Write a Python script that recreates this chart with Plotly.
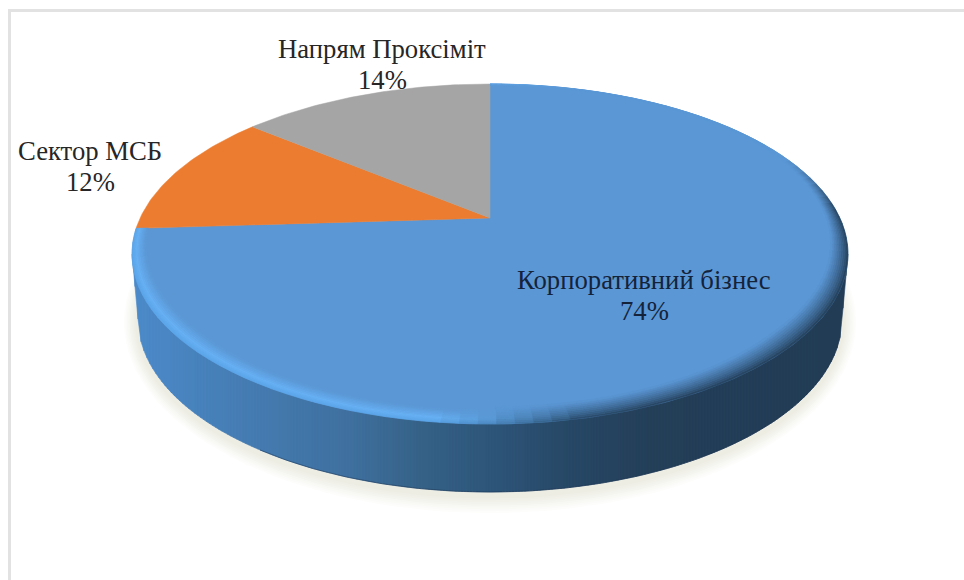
import math
import plotly.graph_objects as go

categories = ["Корпоративний бізнес", "Сектор МСБ", "Напрям Проксіміт"]
values = [74, 12, 14]
slice_colors = ["#5b97d5", "#ec7c30", "#a5a5a5"]

# Layout of the tilted disc, in pixels of the plot area
APEX_X, APEX_Y = 490, 218
TOP_UP, TOP_DOWN = 134, 206      # apex to far / near rim
RX = 358
LOW_CY, LOW_RX, LOW_RY = 319, 352, 173
k = (TOP_DOWN - TOP_UP) / (TOP_DOWN + TOP_UP)
b = TOP_UP * (1 + k)
a = RX * math.sqrt(1 - k * k)
CY = (APEX_Y - TOP_UP + APEX_Y + TOP_DOWN) / 2
RY = (TOP_UP + TOP_DOWN) / 2

label_x = [644, 90, 382]
label_y = [280, 151, 49]
LINE_GAP = 30.5
label_colors = ["#14233a", "#262626", "#262626"]

side_stops = [(133, "#4c8aca"), (250, "#457cb2"), (350, "#3f709f"), (420, "#366288"),
              (500, "#2d5478"), (570, "#274866"), (650, "#243f59"), (848, "#223c55")]


def rgb(h):
    return tuple(int(h[i:i + 2], 16) for i in (1, 3, 5))


def mix(c1, c2, t):
    t = max(0.0, min(1.0, t))
    return tuple(c1[i] + (c2[i] - c1[i]) * t for i in range(3))


def css(c):
    return "rgb(%d,%d,%d)" % tuple(round(x) for x in c)


def side_color(x):
    for (x0, c0), (x1, c1) in zip(side_stops, side_stops[1:]):
        if x <= x1:
            return mix(rgb(c0), rgb(c1), (x - x0) / (x1 - x0))
    return rgb(side_stops[-1][1])


def proj(frac, r=1.0):
    """Clockwise share of the circle from 12 o'clock -> page position."""
    th = 2 * math.pi * frac
    u, v = r * math.sin(th), r * math.cos(th)
    d = 1 + k * v
    return APEX_X + a * u / d, APEX_Y - b * v / d


fig = go.Figure()


def poly(xs, ys, color, opacity=None):
    fig.add_trace(go.Scatter(
        x=xs, y=ys, mode="lines", fill="toself", fillcolor=color,
        line=dict(color=color, width=0.6 if opacity is None else 0),
        opacity=opacity, hoverinfo="skip", showlegend=False))


# soft shadow under the disc
for i in range(9):
    g = 20 - i * 2
    xs, ys = [], []
    for j in range(121):
        t = 2 * math.pi * j / 120
        xs.append(APEX_X + (LOW_RX + g * 0.7) * math.cos(t))
        ys.append(LOW_CY + 3 + (LOW_RY + g * 0.9) * math.sin(t))
    poly(xs, ys, "rgba(110,100,90,0.017)", 1)


def top_y(x):
    dx = abs(x - APEX_X)
    return CY + RY * math.sqrt(max(0.0, 1 - (dx / RX) ** 2))


def low_y(x):
    dx = abs(x - APEX_X)
    if dx >= LOW_RX:
        return CY + (LOW_CY - CY) * (RX - dx) / (RX - LOW_RX)
    return LOW_CY + LOW_RY * math.sqrt(1 - (dx / LOW_RX) ** 2)


# side wall: vertical strips with a left-to-right gradient
STEP = 3
x = APEX_X - RX
while x < APEX_X + RX:
    x1 = min(x + STEP, APEX_X + RX)
    poly([x, x1, x1, x, x], [CY, CY, low_y(x1), low_y(x), CY], css(side_color((x + x1) / 2)))
    x += STEP

# dark line along the lower edge
lx = [APEX_X - 230 + i * 4 for i in range(146)]
fig.add_trace(go.Scatter(x=lx, y=[low_y(v) for v in lx], mode="lines",
                         line=dict(color="rgba(25,50,80,0.5)", width=1),
                         hoverinfo="skip", showlegend=False))

# top face slices, built from the values
total = sum(values)
start = 0.0
spans = []
for name, val, col in zip(categories, values, slice_colors):
    end = start + val / total
    n = max(4, int(val * 4))
    pts = [proj(start + (end - start) * i / n) for i in range(n + 1)]
    xs = [APEX_X] + [p[0] for p in pts] + [APEX_X]
    ys = [APEX_Y] + [p[1] for p in pts] + [APEX_Y]
    fig.add_trace(go.Scatter(x=xs, y=ys, mode="lines", fill="toself", fillcolor=col,
                             line=dict(color=col, width=0.5), name=name,
                             hoverinfo="skip", showlegend=False))
    spans.append((start, end))
    start = end

# bevel on the rim of the big slice
top_col = rgb(slice_colors[0])
hi_col = rgb("#66b0f3")
RINGS = 10
SEG = 110
s0, s1 = spans[0]
for i in range(SEG):
    f0 = s0 + (s1 - s0) * i / SEG
    f1 = s0 + (s1 - s0) * (i + 1) / SEG
    fm = (f0 + f1) / 2
    v = math.cos(2 * math.pi * fm)
    mx, _ = proj(fm)
    w = (mx - (APEX_X - RX)) / (2 * RX)
    width = 0.012 + 0.042 * min(1.0, max(0.0, (0.55 - v) / 1.2))
    if w > 0.5:
        width *= 1.25
    rim_weight = min(1.0, max(0.0, (0.4 - v) / 0.35))
    for j in range(RINGS):
        r0 = 1 - width * j / RINGS
        r1 = 1 - width * (j + 1) / RINGS
        t = (j + 0.5) / RINGS
        # left: bright highlight fading inwards; right: dark rim fading inwards
        left = mix(mix(rgb("#5aa4e8"), hi_col, t * 3), top_col, (t - 0.35) / 0.65)
        right = mix(mix(top_col, side_color(mx), rim_weight), top_col, t ** 0.8)
        c = mix(left, right, (w - 0.42) / 0.2)
        p = [proj(f0, r0), proj(f1, r0), proj(f1, r1), proj(f0, r1), proj(f0, r0)]
        poly([q[0] for q in p], [q[1] for q in p], css(c))

# labels, one annotation per line for the tight leading of the original
for name, val, lx0, ly0, col in zip(categories, values, label_x, label_y, label_colors):
    for text, yy in ((name, ly0), (f"{val}%", ly0 + LINE_GAP)):
        fig.add_annotation(x=lx0, y=yy, text=text, showarrow=False,
                           font=dict(family="Liberation Serif", size=26.7, color=col),
                           xanchor="center", yanchor="middle", align="center")

# picture frame
fig.add_shape(type="line", x0=9.5, x1=9.5, y0=10, y1=580, line=dict(color="#e2e2e2", width=3))
fig.add_shape(type="line", x0=8, x1=964, y0=10.5, y1=10.5, line=dict(color="#e2e2e2", width=3))

fig.update_xaxes(range=[0, 964], visible=False, fixedrange=True)
fig.update_yaxes(range=[580, 0], visible=False, fixedrange=True)
fig.update_layout(width=964, height=580, margin=dict(l=0, r=0, t=0, b=0),
                  paper_bgcolor="white", plot_bgcolor="white", showlegend=False)
fig.write_html("out.html", config={"displayModeBar": False},
               post_script="document.body.style.margin='0';")
